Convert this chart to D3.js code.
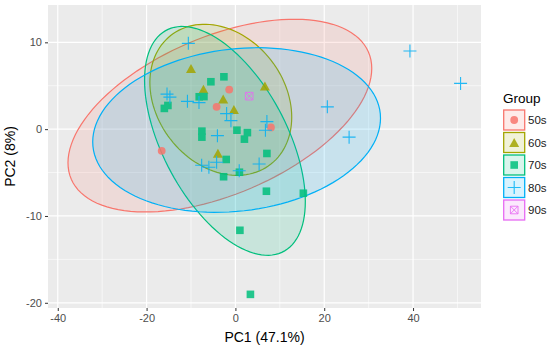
<!DOCTYPE html>
<html lang="en">
<head>
<meta charset="UTF-8">
<title>PCA by group</title>
<script src="https://d3js.org/d3.v7.min.js"></script>
<style>
  body { margin: 0; background: #fff; }
  svg text { font-family: "Liberation Sans", Arial, sans-serif; }
</style>
</head>
<body>
<svg id="chart" width="550" height="348"></svg>
<script>
// groups and colours (ggplot default hues)
const groups = ["50s", "60s", "70s", "80s", "90s"];
const colors = ["#F8766D", "#A3A500", "#00BF7D", "#00B0F6", "#E76BF3"];
const shapes = ["circle", "triangle", "square", "plus", "squarecross"];

// PC1 / PC2 scores
const pts50s = [[-16.6, -2.5], [-1.4, 4.56], [-4.23, 2.57], [8.0, 0.2]];
const pts60s = [[-10.0, 6.98], [-7.2, 4.61], [6.64, 4.96], [-2.75, 3.46], [-0.34, 2.25], [-3.94, -2.77]];
const pts70s = [[-2.59, 6.03], [-5.52, 5.46], [-8.15, 3.73], [-7.09, 3.75], [-16.0, 2.39], [-15.2, 2.73],
  [-7.55, -0.23], [-7.55, -0.92], [0.34, -0.12], [2.7, -0.4], [2.03, -1.15], [7.09, -2.8],
  [-2.07, -3.49], [-2.66, -5.48], [0.9, -4.96], [6.98, -7.15], [15.3, -7.38], [1.01, -11.65], [3.38, -19.03]];
const pts80s = [[-10.6, 9.88], [39.3, 9.0], [50.7, 5.27], [20.7, 2.57], [25.6, -0.92], [-15.4, 4.04],
  [-14.75, 3.69], [-10.8, 3.2], [-8.2, 3.06], [-1.98, 1.79], [-1.01, 0.98], [7.09, 0.87], [6.76, -0.12],
  [-4.05, -0.75], [-7.6, -4.15], [-5.97, -4.38], [-4.23, -3.81], [0.86, -4.79], [5.34, -4.01]];
const pts90s = [[3.1, 3.8]];
const points = [pts50s, pts60s, pts70s, pts80s, pts90s];

// confidence ellipses: centre, spread along each axis, correlation
const ellipseGroups = ["50s", "60s", "70s", "80s"];
const ellipseCenters = [[-3.5, 1.56], [-3.29, 3.38], [-2.36, -1.35], [0.27, -0.1]];
const ellipseSpread = [[34.2, 11.1], [15.97, 8.7], [18.1, 13.18], [32.4, 9.48]];
const ellipseCorr = [0.49, -0.23, -0.53, 0.144];

const xTicks = [-40, -20, 0, 20, 40];
const yTicks = [-20, -10, 0, 10];
const xMinor = [-30, -10, 10, 30, 50];
const yMinor = [-15, -5, 5];

const svg = d3.select("#chart");
const panel = { left: 48, right: 481, top: 5, bottom: 308 };

const x = d3.scaleLinear().domain([-42.2, 55.3]).range([panel.left, panel.right]);
const y = d3.scaleLinear().domain([-20.6, 14.3]).range([panel.bottom, panel.top]);

// panel background + grid
svg.append("rect")
  .attr("x", panel.left).attr("y", panel.top)
  .attr("width", panel.right - panel.left).attr("height", panel.bottom - panel.top)
  .attr("fill", "#EBEBEB");

const grid = svg.append("g");
grid.selectAll(".xminor").data(xMinor).enter().append("line")
  .attr("x1", d => x(d)).attr("x2", d => x(d))
  .attr("y1", panel.top).attr("y2", panel.bottom)
  .attr("stroke", "#fff").attr("stroke-width", 0.6);
grid.selectAll(".yminor").data(yMinor).enter().append("line")
  .attr("y1", d => y(d)).attr("y2", d => y(d))
  .attr("x1", panel.left).attr("x2", panel.right)
  .attr("stroke", "#fff").attr("stroke-width", 0.6);
grid.selectAll(".xmajor").data(xTicks).enter().append("line")
  .attr("x1", d => x(d)).attr("x2", d => x(d))
  .attr("y1", panel.top).attr("y2", panel.bottom)
  .attr("stroke", "#fff").attr("stroke-width", 1.2);
grid.selectAll(".ymajor").data(yTicks).enter().append("line")
  .attr("y1", d => y(d)).attr("y2", d => y(d))
  .attr("x1", panel.left).attr("x2", panel.right)
  .attr("stroke", "#fff").attr("stroke-width", 1.2);

// ellipses
function ellipsePath(i) {
  const [cx, cy] = ellipseCenters[i];
  const [sx, sy] = ellipseSpread[i];
  const r = ellipseCorr[i];
  const q = Math.sqrt(1 - r * r);
  const pts = d3.range(0, 361, 3).map(a => {
    const t = a * Math.PI / 180;
    return [x(cx + sx * Math.cos(t)), y(cy + sy * (r * Math.cos(t) + q * Math.sin(t)))];
  });
  return d3.line()(pts) + "Z";
}
const ell = svg.append("g");
ellipseGroups.forEach((g, i) => {
  const c = colors[groups.indexOf(g)];
  ell.append("path")
    .attr("d", ellipsePath(i))
    .attr("fill", c).attr("fill-opacity", 0.15)
    .attr("stroke", c).attr("stroke-width", 1.2);
});

// point symbols
function drawSymbol(sel, shape, color, cx, cy, s) {
  s = s || 1;
  if (shape === "circle") {
    sel.append("circle").attr("cx", cx).attr("cy", cy).attr("r", 3.9 * s).attr("fill", color);
  } else if (shape === "triangle") {
    const h = 9 * s, w = 10 * s;
    sel.append("path")
      .attr("d", `M${cx},${cy - h / 2}L${cx + w / 2},${cy + h / 2}L${cx - w / 2},${cy + h / 2}Z`)
      .attr("fill", color);
  } else if (shape === "square") {
    const a = 7.6 * s;
    sel.append("rect").attr("x", cx - a / 2).attr("y", cy - a / 2)
      .attr("width", a).attr("height", a).attr("fill", color);
  } else if (shape === "plus") {
    const a = 6.5 * s;
    sel.append("path")
      .attr("d", `M${cx - a},${cy}H${cx + a}M${cx},${cy - a}V${cy + a}`)
      .attr("stroke", color).attr("stroke-width", 1.1).attr("fill", "none");
  } else if (shape === "squarecross") {
    const a = 3.8 * s;
    sel.append("path")
      .attr("d", `M${cx - a},${cy - a}H${cx + a}V${cy + a}H${cx - a}Z` +
        `M${cx - a},${cy - a}L${cx + a},${cy + a}M${cx + a},${cy - a}L${cx - a},${cy + a}`)
      .attr("stroke", color).attr("stroke-width", 1).attr("fill", "none");
  }
}

const ptsG = svg.append("g").attr("opacity", 0.85);
points.forEach((arr, gi) => {
  arr.forEach(d => drawSymbol(ptsG, shapes[gi], colors[gi], x(d[0]), y(d[1])));
});

// axes
const xAxis = svg.append("g").attr("transform", `translate(0,${panel.bottom})`)
  .call(d3.axisBottom(x).tickValues(xTicks).tickSize(3).tickPadding(3));
const yAxis = svg.append("g").attr("transform", `translate(${panel.left},0)`)
  .call(d3.axisLeft(y).tickValues(yTicks).tickSize(3).tickPadding(3));
[xAxis, yAxis].forEach(a => {
  a.select(".domain").remove();
  a.selectAll(".tick line").attr("stroke", "#333").attr("stroke-width", 1);
  a.selectAll(".tick text").attr("fill", "#4D4D4D").style("font-size", "11px");
});
xAxis.selectAll(".tick text").text(d => d < 0 ? "-" + Math.abs(d) : d);
yAxis.selectAll(".tick text").text(d => d < 0 ? "-" + Math.abs(d) : d);

svg.append("text")
  .attr("x", (panel.left + panel.right) / 2).attr("y", 342)
  .attr("text-anchor", "middle").style("font-size", "14px").attr("fill", "#000")
  .text("PC1 (47.1%)");
svg.append("text")
  .attr("transform", `translate(15,${(panel.top + panel.bottom) / 2}) rotate(-90)`)
  .attr("text-anchor", "middle").style("font-size", "14px").attr("fill", "#000")
  .text("PC2 (8%)");

// legend
const legend = svg.append("g").attr("transform", "translate(503,0)");
legend.append("text").attr("x", 0).attr("y", 103)
  .style("font-size", "13.5px").attr("fill", "#000").text("Group");
groups.forEach((g, i) => {
  const top = 110 + i * 22.5;
  const hasEllipse = ellipseGroups.includes(g);
  legend.append("rect")
    .attr("x", 0.7).attr("y", top)
    .attr("width", 21).attr("height", 20)
    .attr("fill", colors[i]).attr("fill-opacity", 0.15)
    .attr("stroke", colors[i]).attr("stroke-width", 1.3);
  const kg = legend.append("g").attr("opacity", 0.85);
  drawSymbol(kg, shapes[i], colors[i], 11.2, top + 10, 1);
  legend.append("text").attr("x", 25).attr("y", top + 14)
    .style("font-size", "11.5px").attr("fill", "#1a1a1a").text(g);
});
</script>
</body>
</html>
